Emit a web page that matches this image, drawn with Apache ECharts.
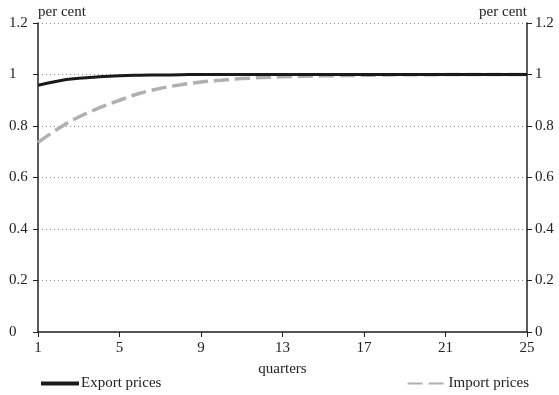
<!DOCTYPE html>
<html><head><meta charset="utf-8">
<script src="https://cdn.jsdelivr.net/npm/echarts@6/dist/echarts.min.js"></script>
<style>html,body{margin:0;padding:0;background:#fff}#c{width:559px;height:395px}</style>
</head><body><div id="c"></div>
<script>
var quarters = ['1','2','3','4','5','6','7','8','9','10','11','12','13','14','15','16','17','18','19','20','21','22','23','24','25'];
var exportPrices = [0.958,0.975,0.985,0.991,0.995,0.997,0.998,0.999,1,1,1,1,1,1,1,1,1,1,1,1,1,1,1,1,1];
var importPrices = [0.736,0.79,0.835,0.87,0.90,0.927,0.946,0.96,0.971,0.978,0.984,0.988,0.991,0.993,0.995,0.996,0.997,0.998,0.999,0.999,1,1,1,1,1];
var yTicks = [0,0.2,0.4,0.6,0.8,1,1.2];

var font = '"Liberation Serif", "Times New Roman", serif';
var fs = 15;
var chart = echarts.init(document.getElementById('c'));
function yAxis(pos){
  var left = pos==='left';
  return {
    type:'value', position:pos, min:yTicks[0], max:yTicks[yTicks.length-1], interval:0.2,
    name:'per cent', nameLocation:'end', nameGap:3,
    nameTextStyle:{color:'#222', fontFamily:font, fontSize:fs, align: left?'left':'right', verticalAlign:'bottom', padding:0},
    axisLine:{show:true, lineStyle:{color:'#222', width:1.5}},
    axisTick:{show:true, length:5, lineStyle:{color:'#222'}},
    axisLabel:{color:'#222', fontFamily:font, fontSize:fs, margin: left?29:8, align:'left',
      formatter:function(v){return String(+v.toFixed(1));}},
    splitLine:{show: left, lineStyle:{color:'#888', type:[1,3], width:1}}
  };
}
chart.setOption({
  animation:false,
  grid:{left:38, right:32, top:23, bottom:63},
  legend:[
    {data:['Export prices'], left:39, top:376, padding:0, itemWidth:38, itemHeight:12, itemGap:4,
     itemStyle:{opacity:0}, lineStyle:{width:4},
     textStyle:{color:'#222', fontFamily:font, fontSize:fs, padding:[0,0,0,-3]}},
    {data:['Import prices'], right:30, top:376, padding:0, itemWidth:39, itemHeight:12,
     itemStyle:{opacity:0},
     textStyle:{color:'#222', fontFamily:font, fontSize:fs, padding:[0,0,0,-3]}}
  ],
  xAxis:{type:'category', data:quarters, boundaryGap:false,
    name:'quarters', nameLocation:'middle', nameGap:30,
    nameTextStyle:{color:'#222', fontFamily:font, fontSize:fs},
    axisLine:{lineStyle:{color:'#222', width:1.5}},
    axisTick:{interval:3, length:5, lineStyle:{color:'#222'}},
    axisLabel:{interval:3, color:'#222', fontFamily:font, fontSize:fs, margin:9},
    splitLine:{show:false}},
  yAxis:[yAxis('left'), yAxis('right')],
  series:[
    {name:'Import prices', type:'line', data:importPrices, symbol:'none', smooth:true, yAxisIndex:0,
     lineStyle:{color:'#b0b0b0', width:3.5, type:[15,6]}, itemStyle:{color:'#b0b0b0'}, z:2},
    {name:'Export prices', type:'line', data:exportPrices, symbol:'none', smooth:true, yAxisIndex:0,
     lineStyle:{color:'#1a1a1a', width:3}, itemStyle:{color:'#1a1a1a'}, z:3}
  ]
});
</script></body></html>
